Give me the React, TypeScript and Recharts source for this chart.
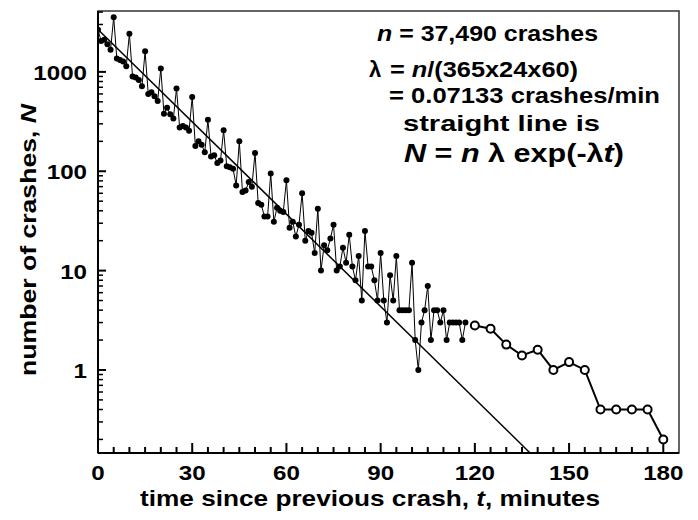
import React from "react";
import { ComposedChart, Line, XAxis, YAxis, ReferenceArea } from "recharts";

// crashes counted per whole minute of gap, t = 0 .. 117
const minuteCounts = [
  2650, 2040, 2100, 1900, 1670, 3550, 1360, 1320, 1270, 1140,
  2420, 900, 880, 830, 715, 1610, 600, 625, 570, 510,
  1080, 380, 435, 375, 340, 680, 275, 285, 275, 255,
  560, 180, 200, 185, 155, 330, 141, 145, 121, 128,
  258, 112, 110, 106, 72, 200, 62, 64, 78, 70,
  153, 48, 46, 35, 35, 95, 31, 43, 40, 39,
  81, 27, 31, 22, 29, 60, 20, 25, 24, 15,
  42, 10, 18, 16, 21, 29, 10, 11, 17, 12,
  23, 11, 8, 14, 5, 25, 11, 11, 8, 5,
  15, 5, 3, 9, 5, 14, 4, 4, 4, 4,
  12, 2, 1, 3, 4, 7, 2, 4, 4, 3,
  4, 2, 3, 3, 3, 3, 2, 3,
];

// 5-minute averages in the tail (open circles)
const binMinutes = [120, 125, 130, 135, 140, 145, 150, 155, 160, 165, 170, 175, 180];
const binCounts = [2.8, 2.6, 1.8, 1.4, 1.6, 1.0, 1.2, 1.0, 0.4, 0.4, 0.4, 0.4, 0.2];

// ends of the straight line N = n λ exp(-λt)
const fitMinutes = [0, 137.5];
const fitCounts = [2670, 0.147];

const xTicks = [
  0, 5, 10, 15, 20, 25, 30, 35, 40, 45, 50, 55, 60, 65, 70, 75, 80, 85, 90,
  95, 100, 105, 110, 115, 120, 125, 130, 135, 140, 145, 150, 155, 160, 165,
  170, 175, 180,
];
const xLabels = [0, 30, 60, 90, 120, 150, 180];
const yTicks = [
  0.2, 0.3, 0.4, 0.5, 0.6, 0.7, 0.8, 0.9, 1, 2, 3, 4, 5, 6, 7, 8, 9, 10,
  20, 30, 40, 50, 60, 70, 80, 90, 100, 200, 300, 400, 500, 600, 700, 800,
  900, 1000, 2000, 3000, 4000,
];
const yLabels = [1, 10, 100, 1000];

const X_MAX = 185;
const Y_MIN = 0.146;
const Y_MAX = 4100;

const font = "'Liberation Sans', Arial, sans-serif";

const minuteData = minuteCounts.map((n, i) => ({ t: i, n }));
const binData = binMinutes.map((t, i) => ({ t, n: binCounts[i] }));
const fitData = fitMinutes.map((t, i) => ({ t, n: fitCounts[i] }));

function XTick(props: any) {
  const { x, y, payload } = props;
  const v = payload.value;
  const major = xLabels.includes(v);
  return (
    <g>
      <line x1={x} x2={x} y1={y} y2={y - (major ? 10 : 6)} stroke="#000" strokeWidth={2} />
      {major && (
        <g transform={`translate(${x},${y + 27}) scale(1.15,1)`}>
          <text x={0} y={0} textAnchor="middle" fontFamily={font} fontWeight="bold" fontSize={21} fill="#000">
            {v}
          </text>
        </g>
      )}
    </g>
  );
}

function YTick(props: any) {
  const { x, y, payload } = props;
  const v = payload.value;
  const major = yLabels.includes(v);
  return (
    <g>
      <line x1={x} x2={x + (major ? 8 : 5)} y1={y} y2={y} stroke="#000" strokeWidth={major ? 2 : 1.5} />
      {major && (
        <g transform={`translate(${x - 11},${y + 8}) scale(1.15,1)`}>
          <text x={0} y={0} textAnchor="end" fontFamily={font} fontWeight="bold" fontSize={21} fill="#000">
            {v}
          </text>
        </g>
      )}
    </g>
  );
}

function Notes() {
  const t = { fontFamily: font, fontWeight: "bold" as const, fill: "#000" };
  return (
    <svg
      width={698}
      height={520}
      style={{ position: "absolute", left: 0, top: 0, pointerEvents: "none" }}
    >
      <text x={377} y={41} fontSize={22} textLength={221} lengthAdjust="spacingAndGlyphs" {...t}>
        <tspan fontStyle="italic">n</tspan> = 37,490 crashes
      </text>
      <text x={369} y={77} fontSize={22} {...t}>λ</text>
      <text x={390} y={77} fontSize={22} textLength={188} lengthAdjust="spacingAndGlyphs" {...t}>
        = <tspan fontStyle="italic">n</tspan>/(365x24x60)
      </text>
      <text x={389} y={103} fontSize={22} textLength={271} lengthAdjust="spacingAndGlyphs" {...t}>
        = 0.07133 crashes/min
      </text>
      <text x={403} y={131} fontSize={22} textLength={197} lengthAdjust="spacingAndGlyphs" {...t}>
        straight line is
      </text>
      <text x={404} y={162} fontSize={25} textLength={220} lengthAdjust="spacingAndGlyphs" {...t}>
        <tspan fontStyle="italic">N</tspan> = <tspan fontStyle="italic">n</tspan> λ exp(-λ
        <tspan fontStyle="italic">t</tspan>)
      </text>

      <text
        x={370}
        y={506}
        fontSize={22}
        textAnchor="middle"
        textLength={460}
        lengthAdjust="spacingAndGlyphs"
        {...t}
      >
        time since previous crash, <tspan fontStyle="italic">t</tspan>, minutes
      </text>
      <text
        x={0}
        y={0}
        fontSize={22}
        textAnchor="middle"
        textLength={272}
        lengthAdjust="spacingAndGlyphs"
        transform="translate(36,240) rotate(-90)"
        {...t}
      >
        number of crashes, <tspan fontStyle="italic">N</tspan>
      </text>
    </svg>
  );
}

export default function App() {
  return (
    <div style={{ position: "absolute", left: 0, top: 0, width: 698, height: 520, background: "#fff" }}>
      <ComposedChart
        width={698}
        height={520}
        margin={{ top: 11, right: 19, bottom: 0, left: 0 }}
      >
        <XAxis
          dataKey="t"
          type="number"
          domain={[0, X_MAX]}
          ticks={xTicks}
          allowDataOverflow
          height={67}
          tickSize={0}
          tickMargin={0}
          tick={<XTick />}
          axisLine={{ stroke: "#000", strokeWidth: 2 }}
          interval={0}
        />
        <YAxis
          dataKey="n"
          type="number"
          scale="log"
          domain={[Y_MIN, Y_MAX]}
          ticks={yTicks}
          allowDataOverflow
          width={98}
          tickSize={0}
          tickMargin={0}
          tick={<YTick />}
          axisLine={{ stroke: "#000", strokeWidth: 2 }}
          interval={0}
        />
        <ReferenceArea
          x1={0}
          x2={X_MAX}
          y1={Y_MIN}
          y2={Y_MAX}
          fill="none"
          stroke="#333"
          strokeWidth={1.5}
          ifOverflow="visible"
        />
        <Line
          data={fitData}
          dataKey="n"
          type="linear"
          stroke="#000"
          strokeWidth={1.5}
          dot={false}
          isAnimationActive={false}
        />
        <Line
          data={minuteData}
          dataKey="n"
          type="linear"
          stroke="#000"
          strokeWidth={1}
          dot={{ r: 3, fill: "#000", stroke: "#000", strokeWidth: 0 }}
          isAnimationActive={false}
        />
        <Line
          data={binData}
          dataKey="n"
          type="linear"
          stroke="#000"
          strokeWidth={2}
          dot={{ r: 4, fill: "#fff", stroke: "#000", strokeWidth: 2 }}
          isAnimationActive={false}
        />
      </ComposedChart>
      <Notes />
    </div>
  );
}
